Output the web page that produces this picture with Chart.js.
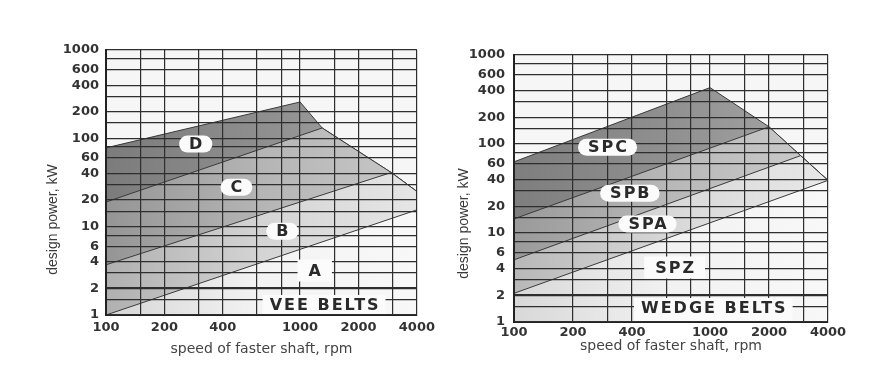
<!DOCTYPE html>
<html>
<head>
<meta charset="utf-8">
<script src="https://cdn.jsdelivr.net/npm/chart.js@4.4.1/dist/chart.umd.min.js"></script>
<style>
  html, body { margin: 0; padding: 0; background: #fff; }
  #wrap { position: relative; width: 877px; height: 371px; }
  canvas { position: absolute; top: 0; }
</style>
</head>
<body>
<div id="wrap">
  <canvas id="vee" width="440" height="371" style="left:0"></canvas>
  <canvas id="wedge" width="437" height="371" style="left:440px"></canvas>
</div>
<script>
// grid lines and tick labels
const veeRpmGrid = [100, 150, 200, 300, 400, 600, 800, 1000, 1500, 2000, 3000, 4000];
const wedgeRpmGrid = [100, 200, 300, 400, 600, 800, 1000, 1500, 2000, 3000, 4000];
const rpmLabels = [100, 200, 400, 1000, 2000, 4000];
const kwGrid = [1, 1.5, 2, 3, 4, 6, 8, 10, 15, 20, 30, 40, 60, 80, 100, 150, 200, 300, 400, 600, 800, 1000];
const kwLabels = [1, 2, 4, 6, 10, 20, 40, 60, 100, 200, 400, 600, 1000];

// vee belts: outer limit and the section boundaries (rpm, kW)
const veeLimitRpm = [100, 1000, 1300, 2950, 4000];
const veeLimitKw = [78, 258, 131, 41, 25];
const veeDCRpm = [100, 1300];
const veeDCKw = [19, 131];
const veeCBRpm = [100, 2950];
const veeCBKw = [3.7, 41];
const veeBARpm = [100, 4000];
const veeBAKw = [1, 15.5];
const veeLabels = ["D", "C", "B", "A", "VEE BELTS"];
const veeLabelRpm = [290, 470, 810, 1190, 1330];
const veeLabelKw = [86, 28, 8.9, 3.2, 1.3];

// wedge belts
const wedgeLimitRpm = [100, 1000, 2000, 2900, 4000];
const wedgeLimitKw = [63, 430, 156, 74, 39];
const wedgeCBRpm = [100, 2000];
const wedgeCBKw = [14.4, 156];
const wedgeBARpm = [100, 2900];
const wedgeBAKw = [5, 74];
const wedgeAZRpm = [100, 4000];
const wedgeAZKw = [2.1, 39];
const wedgeLabels = ["SPC", "SPB", "SPA", "SPZ", "WEDGE BELTS"];
const wedgeLabelRpm = [300, 390, 480, 660, 1040];
const wedgeLabelKw = [92, 28, 12.6, 4.1, 1.44];

const boxed = ["A", "SPZ"];
const base = ["VEE BELTS", "WEDGE BELTS"];

function pts(xs, ys) {
  return xs.map((x, i) => ({ x, y: ys[i] }));
}

// boundary line, then the rest of the outer limit after it meets it
function withTail(xs, ys, limX, limY) {
  const last = xs[xs.length - 1];
  return pts(xs, ys).concat(pts(limX, limY).filter(p => p.x > last));
}

function grad(chart, stops) {
  const a = chart.chartArea;
  if (!a) return stops[0];
  const g = chart.ctx.createLinearGradient(a.left, 0, a.right, 0);
  stops.forEach((c, i) => g.addColorStop(i / (stops.length - 1), c));
  return g;
}

function area(data, stops) {
  return {
    data, fill: "start", tension: 0, pointRadius: 0,
    borderColor: "#3a3a3a", borderWidth: 1,
    backgroundColor: ctx => grad(ctx.chart, stops),
  };
}

function logAxis(min, max, grid, labels, pad, size) {
  return {
    type: "logarithmic", min, max, z: 1,
    afterBuildTicks: s => { s.ticks = grid.map(v => ({ value: v })); },
    afterFit: s => { if (s.isHorizontal()) s.height = size; else s.width = size; },
    ticks: {
      autoSkip: false, maxRotation: 0, padding: pad, color: "#333",
      font: { family: "DejaVu Sans", size: 13, weight: "bold" },
      callback: v => labels.includes(v) ? String(v) : "",
    },
    grid: {
      z: 1, color: "#2e2e2e", drawTicks: false,
      lineWidth: c => (c.tick && c.tick.value === 2) ? 2.2 : 1.2,
    },
    border: { z: 1, color: "#222", width: 2 },
  };
}

function overlay(labels, rpm, kw, titleX, titleShift) {
  return {
    id: "overlay",
    beforeDraw(chart) {
      const a = chart.chartArea, c = chart.ctx;
      c.save();
      c.fillStyle = "#f6f6f6";
      c.fillRect(a.left, a.top, a.right - a.left, a.bottom - a.top);
      c.restore();
    },
    afterDraw(chart) {
      const { ctx, chartArea: a } = chart;
      const x = chart.scales.x, y = chart.scales.y;
      ctx.save();
      ctx.font = 'bold 16px "DejaVu Sans"';
      ctx.letterSpacing = "2px";
      ctx.textAlign = "center";
      ctx.textBaseline = "middle";
      labels.forEach((t, i) => {
        const cx = x.getPixelForValue(rpm[i]);
        const cy = y.getPixelForValue(kw[i]);
        const w = ctx.measureText(t).width;
        ctx.fillStyle = "#fbfbfb";
        ctx.beginPath();
        if (base.includes(t)) {
          ctx.rect(cx - w / 2 - 6, cy - 10, w + 12, a.bottom - 1 - (cy - 10));
        } else if (boxed.includes(t)) {
          ctx.rect(cx - w / 2 - 10, cy - 11, w + 20, 22);
        } else {
          ctx.roundRect(cx - w / 2 - 9, cy - 8.5, w + 18, 17, 8.5);
        }
        ctx.fill();
        ctx.fillStyle = "#2a2a2a";
        ctx.fillText(t, cx + 1, cy + 1);
      });
      // y axis title
      ctx.letterSpacing = "0px";
      ctx.font = '14px "Liberation Sans"';
      ctx.fillStyle = "#3a3a3a";
      ctx.translate(titleX, (a.top + a.bottom) / 2 + titleShift);
      ctx.rotate(-Math.PI / 2);
      ctx.fillText("design power, kW", 0, 0);
      ctx.restore();
    },
  };
}

function makeChart(id, datasets, rpmGrid, layout, plugin) {
  return new Chart(document.getElementById(id), {
    type: "line",
    data: { datasets },
    options: {
      responsive: false, animation: false, devicePixelRatio: 1,
      layout: { padding: layout.padding },
      plugins: { legend: { display: false }, tooltip: { enabled: false } },
      scales: {
        x: Object.assign(logAxis(100, 4000, rpmGrid, rpmLabels, layout.xPad, layout.xSize), {
          title: {
            display: true, text: "speed of faster shaft, rpm", color: "#444",
            font: { family: "DejaVu Sans", size: 14 }, padding: { top: 0, bottom: layout.titlePad },
          },
        }),
        y: logAxis(1, 1000, kwGrid, kwLabels, layout.yPad, layout.ySize),
      },
    },
    plugins: [plugin],
  });
}

// dataset 0 is painted last, so the lowest region goes first
makeChart("vee", [
  area(pts(veeBARpm, veeBAKw), ["#d6d6d6", "#f3f3f3", "#f8f8f8"]),
  area(withTail(veeCBRpm, veeCBKw, veeLimitRpm, veeLimitKw), ["#b0b0b0", "#d4d4d4", "#e6e6e6"]),
  area(withTail(veeDCRpm, veeDCKw, veeLimitRpm, veeLimitKw), ["#959595", "#b5b5b5", "#c8c8c8"]),
  area(pts(veeLimitRpm, veeLimitKw), ["#7c7c7c", "#8e8e8e", "#a6a6a6"]),
], veeRpmGrid,
  { padding: { top: 50, right: 21, left: 0, bottom: 0 }, xPad: 5, yPad: 7, xSize: 56, ySize: 106, titlePad: 13 },
  overlay(veeLabels, veeLabelRpm, veeLabelKw, 53, 37));

makeChart("wedge", [
  area(pts(wedgeAZRpm, wedgeAZKw), ["#d8d8d8", "#f2f2f2", "#f8f8f8"]),
  area(withTail(wedgeBARpm, wedgeBAKw, wedgeLimitRpm, wedgeLimitKw), ["#b8b8b8", "#d8d8d8", "#e8e8e8"]),
  area(withTail(wedgeCBRpm, wedgeCBKw, wedgeLimitRpm, wedgeLimitKw), ["#9a9a9a", "#b8b8b8", "#cccccc"]),
  area(pts(wedgeLimitRpm, wedgeLimitKw), ["#7e7e7e", "#909090", "#a8a8a8"]),
], wedgeRpmGrid,
  { padding: { top: 55, right: 49, left: 0, bottom: 0 }, xPad: 3, yPad: 9, xSize: 49, ySize: 74, titlePad: 16 },
  overlay(wedgeLabels, wedgeLabelRpm, wedgeLabelKw, 24, 35));
</script>
</body>
</html>
